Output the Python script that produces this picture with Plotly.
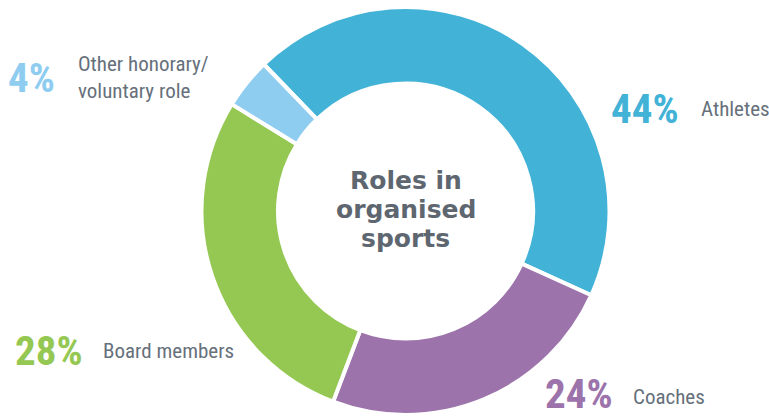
import plotly.graph_objects as go

W, H = 769, 419

categories = ["Athletes", "Coaches", "Board members", "Other honorary/<br>voluntary role"]
values = [44, 24, 28, 4]
colors = ["#42B2D7", "#9D73AB", "#95C853", "#8FCDF0"]
pct_labels = ["44%", "24%", "28%", "4%"]

# label positions in pixels (left x of percentage, left x of label, centre y)
pct_x = [610, 544, 14, 7]
lab_x = [699, 631, 101, 76]
row_y = [109, 397, 351, 78]

LABEL_GRAY = "#66707B"
CENTER_GRAY = "#5E6670"
NARROW = "Roboto Condensed, sans-serif"

cx, cy, R = 405.5, 211.0, 204.0

fig = go.Figure(go.Pie(
    labels=[c.replace("<br>", " ") for c in categories],
    values=values,
    sort=False,
    direction="clockwise",
    rotation=-44,
    hole=0.625,
    marker=dict(colors=colors, line=dict(color="white", width=4)),
    textinfo="none",
    hoverinfo="label+percent",
    showlegend=False,
    domain=dict(x=[(cx - R) / W, (cx + R) / W],
                y=[(H - cy - R) / H, (H - cy + R) / H]),
))

ann = []
for i in range(len(values)):
    yy = 1 - row_y[i] / H
    yanchor = "middle"
    # keep the lowest percentage box inside the page
    if row_y[i] + 26 > H:
        yy, yanchor = 0, "bottom"
    ann.append(dict(x=pct_x[i] / W, y=yy, xref="paper", yref="paper",
                    xanchor="left", yanchor=yanchor, showarrow=False, borderpad=0,
                    text=pct_labels[i],
                    font=dict(family=NARROW, size=41, color=colors[i], weight="bold")))
    ann.append(dict(x=lab_x[i] / W, y=1 - row_y[i] / H, xref="paper", yref="paper",
                    xanchor="left", yanchor="middle", showarrow=False, align="left",
                    text=categories[i],
                    font=dict(family=NARROW, size=21, color=LABEL_GRAY)))

center_lines = ["Roles in", "organised", "sports"]
center_y = [180, 209, 238]
for t, yy in zip(center_lines, center_y):
    ann.append(dict(x=cx / W, y=1 - yy / H, xref="paper", yref="paper",
                    xanchor="center", yanchor="middle", showarrow=False,
                    text="<b>" + t + "</b>",
                    font=dict(family="DejaVu Sans", size=25, color=CENTER_GRAY)))

fig.update_layout(
    width=W, height=H,
    margin=dict(l=0, r=0, t=0, b=0),
    paper_bgcolor="white", plot_bgcolor="white",
    annotations=ann,
)

fig.write_html("out.html", config={"displayModeBar": False},
               post_script="document.body.style.margin='0';")
